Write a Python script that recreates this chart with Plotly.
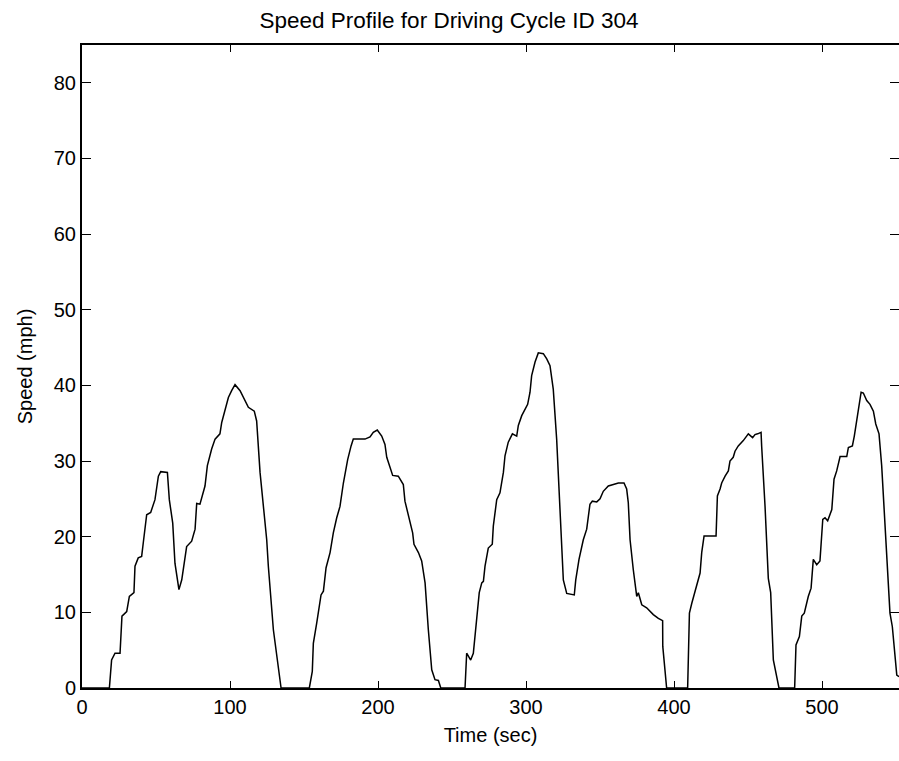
import plotly.graph_objects as go

# Time (sec) and speed (mph)
time_s = [
    0, 18.5, 20, 22.3, 25.7, 27, 30.2, 32, 35.1, 35.8, 38, 40.3, 41.4, 43.7, 46.4, 49.3,
    51.6, 53.2, 57.7, 59, 61.3, 62.8, 65.5, 67.4, 70.7, 74.1, 76.4, 77.5, 79.7, 83.1,
    84.7, 87.6, 89.9, 93.2, 94.4, 96.6, 98.9, 101.1, 103.4, 106.8, 110.1, 112.4, 116.4,
    118, 120.3, 124.8, 125.9, 129.3, 134.5,
    153.6, 155.6, 156.3, 158.6, 161.5, 163.1, 164.9, 167.6, 169.8, 172.1, 174.3, 176.6,
    179.5, 181.8, 183.3, 191.2, 194.6, 196.8, 199.5, 202.5, 204.7, 205.9, 208.1, 209.9,
    213.7, 217.1, 218.2, 221.6, 223.4, 224.3, 227.3, 229.5, 231.8, 234, 236.3, 238.5,
    240.8, 242.4,
    258.8, 259.9, 262.6, 264.4, 266.7, 268.4, 270.1, 271.2, 272.3, 274.5, 277.2, 277.9,
    280.2, 282.4, 284.7, 285.8, 288, 290.8, 293.7, 294.8, 297.1, 299.3, 301.1, 302.7,
    303.8, 306.1, 308.3, 311.7, 314, 316.2, 318.4, 320.7, 321.8, 323.6, 325.2, 327.5,
    332.6, 333.6, 335.8, 338.7, 341, 343.2, 344.8, 347.8, 350, 352.2, 355.6, 359, 362.4,
    366.2, 368, 369.1, 370.3, 372.5, 374.8, 375.9, 378.2, 381.5, 386, 389.4, 392.3,
    392.4, 395,
    409.2, 410.4, 412, 413.5, 414.9, 417.6, 418.7, 420.3, 428.4, 429.3, 431.1, 432.2,
    434.5, 436.7, 437.8, 440, 441.2, 443.4, 446.8, 450.2, 453.1, 454.7, 456.5, 458.8,
    459.2, 461.5, 463.7, 465.3, 467.1, 468.7, 470.9,
    481.5, 482.4, 484.7, 486.3, 488, 490.7, 492.6, 494.1, 496.4, 498.6, 500.5, 502,
    503.8, 506.6, 508.1, 509.9, 512.2, 516.7, 517.8, 520.5, 521.8, 524.5, 526.4, 527.9,
    530.2, 532.4, 534.7, 536.3, 538.5, 540.3, 542.6, 544.4, 545.9, 547.5, 548.9, 550.5,
    552,
]
speed_mph = [
    0, 0, 3.7, 4.6, 4.6, 9.5, 10.1, 12.1, 12.6, 16.1, 17.2, 17.4, 19.2, 22.9, 23.2, 24.9,
    28.0, 28.6, 28.5, 24.9, 21.8, 16.5, 13.0, 14.3, 18.7, 19.4, 21.0, 24.4, 24.3, 26.7,
    29.4, 31.6, 32.9, 33.6, 35.1, 36.6, 38.4, 39.3, 40.1, 39.3, 38.0, 37.1, 36.6,
    35.3, 28.5, 19.6, 16.1, 7.7, 0,
    0, 2.2, 5.9, 8.6, 12.3, 12.8, 15.9, 17.9, 20.5, 22.5, 24.0, 27.1,
    30.2, 32.0, 32.9, 32.9, 33.2, 33.8, 34.1, 33.3, 32.2, 30.5, 29.1, 28.1,
    28.0, 26.9, 24.7, 22.1, 20.5, 19.0, 17.9, 16.8, 13.9, 7.7, 2.4, 1.1,
    1.0, 0,
    0, 4.6, 3.7, 4.6, 9.0, 12.6, 13.9, 14.1, 16.1, 18.5, 19.0, 21.4,
    24.9, 25.8, 28.5, 30.7, 32.5, 33.6, 33.3, 34.7, 36.0, 36.9, 37.5, 39.1,
    41.3, 43.1, 44.3, 44.2, 43.5, 42.6, 39.5, 32.9, 28.0, 21.8, 14.3, 12.5,
    12.3, 14.3, 17.0, 19.6, 21.0, 24.3, 24.7, 24.6, 25.0, 26.0, 26.7, 26.9, 27.1,
    27.1, 26.3, 24.5, 19.6, 15.6, 12.1, 12.6, 11.0, 10.6, 9.7, 9.2, 8.9,
    5.5, 0,
    0, 9.9, 11.2, 12.3, 13.4, 15.2, 17.9, 20.1, 20.1, 25.4, 26.3, 27.1,
    28.0, 28.7, 30.0, 30.5, 31.3, 32.0, 32.7, 33.6, 33.1, 33.5, 33.6, 33.8,
    32.0, 24.0, 14.5, 12.6, 3.7, 1.9, 0,
    0, 5.7, 6.8, 9.5, 9.9, 12.1, 13.2, 17.0, 16.3, 16.8, 22.3, 22.5,
    22.1, 23.6, 27.6, 28.7, 30.6, 30.6, 31.8, 32.0, 33.3, 36.6, 39.1, 39.0,
    38.0, 37.5, 36.6, 34.9, 33.6, 29.4, 21.8, 14.8, 9.9, 8.1, 4.6, 1.7,
    1.5,
]

x_ticks = [0, 100, 200, 300, 400, 500]
y_ticks = [0, 10, 20, 30, 40, 50, 60, 70, 80]

FONT = "Liberation Sans, Arial, Helvetica, sans-serif"

fig = go.Figure()
fig.add_trace(go.Scatter(
    x=time_s, y=speed_mph, mode="lines",
    line=dict(color="black", width=1.5),
    showlegend=False, hoverinfo="x+y",
))

fig.update_layout(
    width=899, height=761,
    margin=dict(l=82, r=0, t=45, b=73, autoexpand=False),
    paper_bgcolor="white", plot_bgcolor="white",
    font=dict(family=FONT, size=20, color="black"),
    title=dict(text="Speed Profile for Driving Cycle ID 304", x=449 / 899, xanchor="center",
               xref="container",
               y=1 - 20 / 761, yanchor="middle", yref="container", automargin=False,
               font=dict(family=FONT, size=22.5, color="black")),
    xaxis=dict(
        range=[0, 552], tickvals=x_ticks, ticktext=[str(v) for v in x_ticks],
        ticks="inside", ticklen=7, tickwidth=1, tickcolor="black",
        showline=True, linewidth=2, linecolor="black", mirror="ticks",
        showgrid=False, zeroline=False, automargin=False,
        title=dict(text="Time (sec)", standoff=11, font=dict(size=20)),
        tickfont=dict(size=20),
    ),
    yaxis=dict(
        range=[0, 85], tickvals=y_ticks, ticktext=[str(v) for v in y_ticks],
        ticks="inside", ticklen=9, tickwidth=1, tickcolor="black",
        showline=True, linewidth=2, linecolor="black", mirror="ticks",
        showgrid=False, zeroline=False, automargin=False,
        title=dict(text="Speed (mph)", standoff=16, font=dict(size=20)),
        tickfont=dict(size=20),
    ),
)

fig.write_html(
    "out.html",
    config={"displayModeBar": False},
    post_script="document.body.style.margin='0';document.body.style.overflow='hidden';",
)
